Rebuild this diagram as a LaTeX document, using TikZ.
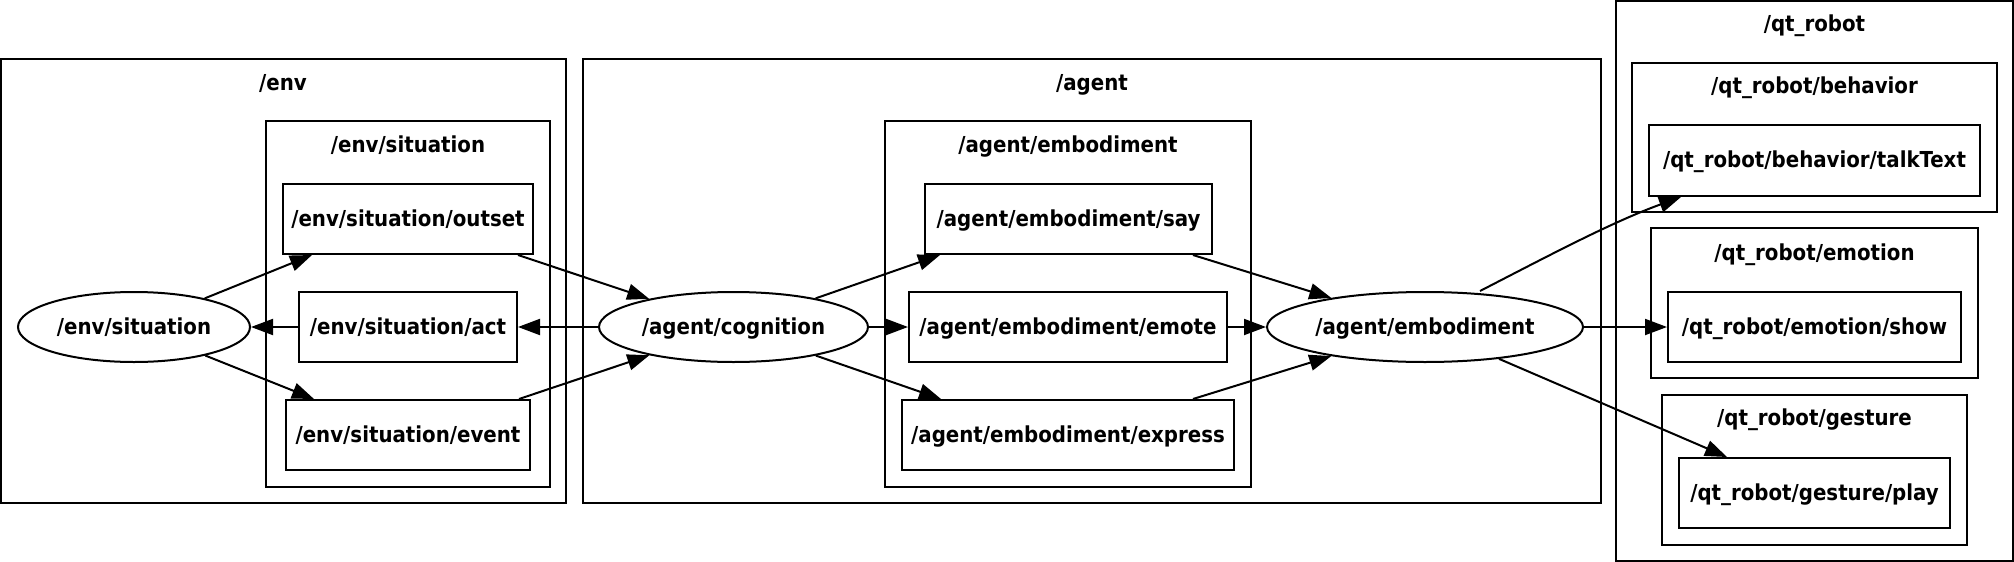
\documentclass[tikz,border=0pt]{standalone}
\usepackage{fontspec}
\setmainfont{DejaVu Sans Condensed}
\usetikzlibrary{shapes.geometric,arrows.meta}
\newcommand\lblfont{\fontsize{22}{26}\selectfont\bfseries}
\begin{document}
\begin{tikzpicture}[x=1pt,y=-1pt, line width=2pt,
  topic/.style={draw, rectangle, inner sep=0pt, font=\lblfont, text height=16pt, text depth=2pt},
  nodeell/.style={draw, ellipse, inner sep=0pt, font=\lblfont, text height=16pt, text depth=2pt},
  clus/.style={draw, rectangle, inner sep=0pt},
  clabel/.style={font=\lblfont, inner sep=0pt, text height=16pt, text depth=2pt},
  edge/.style={-{Triangle[length=22pt,width=16pt]}, line width=2pt}
]
\useasboundingbox (0,0) rectangle (2014,562);
% clusters
\node[clus, minimum width=565, minimum height=444] (envC) at (283.5,281) {};
\node[clus, minimum width=284, minimum height=366] (envsitC) at (408,304) {};
\node[clus, minimum width=1018, minimum height=444] (agentC) at (1092,281) {};
\node[clus, minimum width=366, minimum height=366] (agembC) at (1068,304) {};
\node[clus, minimum width=397, minimum height=560] (qtC) at (1814.5,281) {};
\node[clus, minimum width=365, minimum height=149] (behC) at (1814.5,137.5) {};
\node[clus, minimum width=327, minimum height=150] (emoC) at (1814.5,303) {};
\node[clus, minimum width=305, minimum height=150] (gesC) at (1814.5,470) {};
% cluster labels
\node[clabel] (envL) at (283,83) {/env};
\node[clabel] (envsitL) at (408,145) {/env/situation};
\node[clabel] (agentL) at (1092,83) {/agent};
\node[clabel] (agembL) at (1068,145) {/agent/embodiment};
\node[clabel] (qtL) at (1814.5,24) {/qt\_robot};
\node[clabel] (behL) at (1814.5,86) {/qt\_robot/behavior};
\node[clabel] (emoL) at (1814.5,253) {/qt\_robot/emotion};
\node[clabel] (gesL) at (1814.5,418) {/qt\_robot/gesture};
% topics
\node[topic, minimum width=250, minimum height=70] (outset) at (408,219) {/env/situation/outset};
\node[topic, minimum width=218, minimum height=70] (act) at (408,327) {/env/situation/act};
\node[topic, minimum width=244, minimum height=70] (event) at (408,435) {/env/situation/event};
\node[topic, minimum width=287, minimum height=70] (say) at (1068.5,219) {/agent/embodiment/say};
\node[topic, minimum width=318, minimum height=70] (emote) at (1068,327) {/agent/embodiment/emote};
\node[topic, minimum width=332, minimum height=70] (express) at (1068,435) {/agent/embodiment/express};
\node[topic, minimum width=331, minimum height=71] (talk) at (1814.5,160.5) {/qt\_robot/behavior/talkText};
\node[topic, minimum width=293, minimum height=70] (show) at (1814.5,327) {/qt\_robot/emotion/show};
\node[topic, minimum width=271, minimum height=70] (play) at (1814.5,493) {/qt\_robot/gesture/play};
% node ellipses
\node[nodeell, minimum width=232, minimum height=70] (envS) at (134,327) {/env/situation};
\node[nodeell, minimum width=269, minimum height=70] (cog) at (733.5,327) {/agent/cognition};
\node[nodeell, minimum width=316, minimum height=70] (emb) at (1425,327) {/agent/embodiment};
% edges
\draw[edge] (envS) -- ([xshift=30]outset.south west);
\draw[edge] (envS) -- ([xshift=29]event.north west);
\draw[edge] (act.west) -- (envS.east);
\draw[edge] ([xshift=-16]outset.south east) -- (cog);
\draw[edge] ([xshift=-12]event.north east) -- (cog);
\draw[edge] (cog.west) -- (act.east);
\draw[edge] (cog) -- ([xshift=16]say.south west);
\draw[edge] (cog.east) -- (emote.west);
\draw[edge] (cog) -- ([xshift=40]express.north west);
\draw[edge] ([xshift=-20]say.south east) -- (emb);
\draw[edge] (emote.east) -- (emb.west);
\draw[edge] ([xshift=-42]express.north east) -- (emb);
\draw[edge] ([xshift=55]emb.north) .. controls (1550,255) and (1612,222) .. ([xshift=33]talk.south west);
\draw[edge] (emb.east) -- (show.west);
\draw[edge] (emb) -- ([xshift=49]play.north west);
\end{tikzpicture}
\end{document}
